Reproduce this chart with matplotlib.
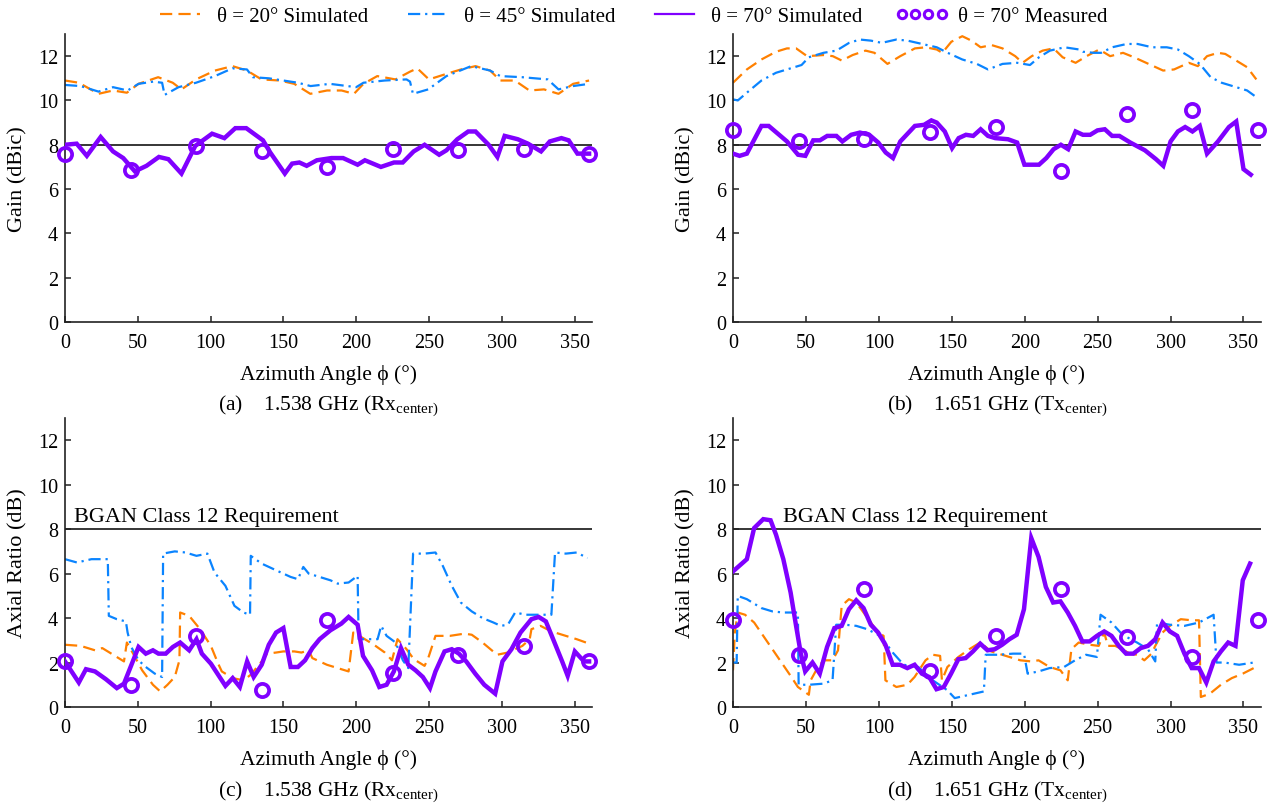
import matplotlib
matplotlib.use("Agg")
import matplotlib.pyplot as plt
from matplotlib.lines import Line2D

plt.rcParams['font.family'] = ['Liberation Serif', 'DejaVu Serif']
plt.rcParams['mathtext.fontset'] = 'stix'

# ---------------- data ----------------
meas_phi = [0, 45, 90, 135, 180, 225, 270, 315, 360]

# (a) gain 1.538 GHz
a_phi_20 = [0, 9.5, 23, 33, 42.5, 50.5, 64, 74, 80, 90, 103, 115, 125, 135, 147.5, 157.5, 168.5, 180, 190, 198.5,
            205, 214.5, 227, 237, 242, 250, 262, 272, 282, 292, 299, 309, 319, 329, 339, 349, 360]
a_g20 = [10.9, 10.8, 10.3, 10.45, 10.35, 10.75, 11.05, 10.8, 10.5, 10.95, 11.35, 11.55, 11.35, 10.95, 10.9, 10.75, 10.3, 10.45, 10.45, 10.3,
         10.75, 11.1, 10.95, 11.3, 11.45, 10.95, 11.2, 11.4, 11.55, 11.35, 10.9, 10.9, 10.45, 10.5, 10.3, 10.75, 10.9]
a_phi_45 = [0, 10.7, 23, 33, 43, 50.5, 60.5, 66.7, 68.4, 78, 90, 103, 115, 125, 129, 140, 150, 160, 168.7, 182,
            200, 205, 219.6, 234.6, 237, 239, 249.5, 262, 279, 292, 299, 314, 331.6, 339, 349, 360]
a_g45 = [10.7, 10.65, 10.4, 10.6, 10.45, 10.75, 10.85, 10.8, 10.25, 10.6, 10.8, 11.1, 11.45, 11.4, 11.05, 11.0, 10.9, 10.8, 10.65, 10.75,
         10.6, 10.8, 10.9, 10.95, 10.85, 10.3, 10.5, 11.1, 11.55, 11.35, 11.1, 11.05, 10.95, 10.5, 10.65, 10.75]
a_phi_70 = [0, 8, 15, 24.5, 33, 40, 48, 56, 64.5, 71, 80, 89.5, 101, 109.5, 117, 124.5, 136, 141, 151, 156,
            161, 166, 173, 183, 191, 201, 206, 217, 226, 232, 239.5, 247, 257, 262, 269.5, 277, 282, 291, 297, 302,
            311, 318, 327, 333, 341, 346, 352, 358, 360]
a_g70 = [8.0, 8.05, 7.5, 8.35, 7.7, 7.4, 6.8, 7.05, 7.45, 7.35, 6.7, 7.95, 8.5, 8.3, 8.75, 8.75, 8.2, 7.65, 6.7, 7.15,
         7.2, 7.05, 7.3, 7.4, 7.4, 7.1, 7.3, 7.0, 7.2, 7.2, 7.7, 8.0, 7.55, 7.75, 8.25, 8.6, 8.6, 8.0, 7.45, 8.4,
         8.25, 8.05, 7.7, 8.15, 8.3, 8.2, 7.6, 7.6, 7.6]
a_meas = [7.6, 6.85, 7.95, 7.7, 7.0, 7.8, 7.75, 7.8, 7.6]

# (b) gain 1.651 GHz
b_phi_20 = [0, 9.5, 19.5, 29.5, 37, 43.3, 50.8, 62, 68.4, 74.6, 82, 90.9, 97, 105.9, 114.7, 124.7, 132.2, 139.7, 143.5, 149.7,
            157.2, 163.5, 169.8, 177.3, 184.8, 193.5, 198.5, 204.8, 212.3, 219.8, 226, 234.9, 242.4, 251.1, 258.6, 267.4, 274.9, 284.9, 294.9, 302.4,
            312.5, 318.7, 325, 332.5, 337.5, 345, 352.5, 358.8]
b_g20 = [10.8, 11.4, 11.85, 12.2, 12.35, 12.35, 12.0, 12.05, 12.0, 11.8, 12.05, 12.25, 12.15, 11.65, 12.0, 12.35, 12.4, 12.3, 12.15, 12.65,
         12.9, 12.7, 12.4, 12.5, 12.35, 12.0, 11.7, 12.0, 12.25, 12.35, 11.95, 11.7, 12.0, 12.3, 12.0, 12.15, 11.95, 11.65, 11.35, 11.4,
         11.7, 11.55, 12.0, 12.15, 12.1, 11.8, 11.5, 10.95]
b_phi_45 = [0, 3.3, 9.5, 19.5, 29.5, 42, 47, 52, 62, 70.9, 79.6, 87, 94.6, 102, 112, 119.7, 129.7, 139.7, 147.2, 157.2,
            167.2, 174.8, 184.8, 194.8, 203.6, 209.8, 217.3, 227.3, 237.4, 239.9, 247.4, 252.4, 259.9, 269.9, 277.4, 287.4, 297.4, 305, 312.5, 320,
            327.5, 335, 345, 352.5, 358.8]
b_g45 = [10.05, 10.0, 10.35, 10.9, 11.25, 11.5, 11.6, 11.95, 12.15, 12.25, 12.6, 12.75, 12.7, 12.6, 12.75, 12.7, 12.55, 12.4, 12.15, 11.85,
         11.65, 11.4, 11.65, 11.7, 11.6, 11.95, 12.25, 12.4, 12.3, 12.2, 12.15, 12.15, 12.4, 12.55, 12.55, 12.4, 12.4, 12.3, 12.0, 11.65,
         11.05, 10.8, 10.6, 10.45, 10.15]
b_phi_70 = [0, 4.5, 9.5, 19.5, 24.5, 37, 44.6, 49.6, 55, 59.6, 64.6, 70.9, 75, 81, 87, 93.4, 99.6, 104.7, 109.7, 114.7,
            124.7, 131, 136, 139.7, 145.2, 150.2, 154.7, 159.7, 164.7, 169.8, 174.8, 179.8, 188.5, 194.8, 199.8, 209.8, 214.8, 219.8, 224.8, 229.8,
            234.9, 239.9, 244.9, 249.9, 254.9, 259.9, 264.9, 272.4, 282.4, 290, 295, 300, 305, 310, 315, 320, 325, 332.5, 340, 345,
            350, 355]
b_g70 = [7.6, 7.5, 7.6, 8.85, 8.85, 8.15, 7.55, 7.5, 8.2, 8.2, 8.4, 8.4, 8.15, 8.45, 8.55, 8.45, 8.1, 7.65, 7.4, 8.15,
         8.85, 8.9, 9.1, 9.0, 8.6, 7.85, 8.3, 8.45, 8.4, 8.7, 8.4, 8.3, 8.25, 8.1, 7.1, 7.1, 7.4, 7.8, 8.0, 7.8,
         8.6, 8.45, 8.45, 8.65, 8.7, 8.4, 8.4, 8.1, 7.75, 7.35, 7.05, 8.15, 8.6, 8.8, 8.6, 8.85, 7.6, 8.15, 8.8, 9.05,
         6.9, 6.65]
b_meas = [8.67, 8.17, 8.25, 8.58, 8.82, 6.82, 9.38, 9.58, 8.67]

# (c) axial ratio 1.538 GHz
c_phi_20 = [0, 10.7, 20.6, 25.6, 33.1, 40.5, 42.5, 46.8, 53, 60.4, 65.4, 70.4, 75.4, 78.6, 79.1, 85.3, 92.8, 100.2, 105.2, 107.7,
            115.2, 122.6, 127.6, 135.1, 138.8, 145, 150, 157.5, 162.4, 167.4, 169.9, 174.9, 179.9, 187.3, 194.8, 198, 204.7, 212.2, 219.7, 224.6,
            228.4, 234.6, 239.6, 247, 249.5, 254.5, 264.4, 274.4, 279.4, 286.8, 296.8, 304.2, 314.2, 319.2, 320.4, 326.6, 334.1, 344, 351.5, 360]
c_ar20 = [2.8, 2.75, 2.55, 2.65, 2.35, 2.05, 2.9, 2.4, 1.65, 1.0, 0.7, 1.0, 1.35, 2.1, 4.25, 4.1, 3.5, 2.75, 1.95, 1.6,
          1.3, 1.2, 1.45, 2.05, 2.4, 2.45, 2.5, 2.5, 2.45, 2.55, 2.2, 2.05, 1.9, 1.75, 1.6, 3.35, 3.1, 2.8, 2.45, 2.1,
          3.05, 2.6, 2.15, 1.85, 2.2, 3.2, 3.2, 3.3, 3.25, 2.9, 2.35, 2.45, 2.75, 3.05, 3.5, 3.65, 3.4, 3.2, 3.05, 2.85]
c_phi_45 = [0, 8.2, 18.2, 25.6, 29.4, 30.1, 35.6, 41.8, 43, 45.5, 50.5, 55.5, 61.7, 66.7, 67.4, 75.4, 82.8, 90.3, 97.8, 102.7,
            110.2, 116.4, 122.6, 127.1, 127.6, 135.1, 145, 155, 160, 163.7, 167.4, 174.9, 182.3, 187.3, 194.8, 201, 201.7, 209.7, 214.7, 217.2,
            220.9, 227.1, 232.1, 235.8, 239.1, 247, 254.5, 259.5, 265.7, 271.9, 279.4, 286.8, 294.3, 299.3, 304.2, 309.2, 316.7, 324.1, 334.1, 336.6,
            344, 351.5, 358.9]
c_ar45 = [6.65, 6.5, 6.65, 6.65, 6.65, 4.1, 3.95, 3.85, 3.35, 2.7, 2.1, 1.8, 1.5, 1.35, 6.9, 7.0, 6.95, 6.8, 6.9, 6.05,
          5.45, 4.55, 4.25, 4.15, 6.8, 6.45, 6.15, 5.85, 5.75, 6.3, 6.0, 5.85, 5.7, 5.55, 5.6, 5.9, 3.05, 3.05, 3.05, 3.65,
          3.2, 2.9, 2.1, 1.75, 6.9, 6.9, 6.95, 6.35, 5.45, 4.7, 4.3, 4.0, 3.8, 3.65, 3.7, 4.25, 4.15, 4.15, 4.15, 6.95,
          6.9, 6.95, 6.7]
c_phi_70 = [0, 9.5, 14.4, 20.6, 28.1, 35.6, 40.5, 50.5, 55.5, 60.4, 64.2, 69.2, 74.1, 79.1, 85.3, 90.3, 94, 100.2, 110.2, 115.2,
            120.1, 125.1, 129.6, 135.1, 140, 145, 150, 155, 160, 164.9, 169.9, 174.9, 182.3, 189.8, 194.8, 201, 204.7, 210.9, 215.9, 220.9,
            225.9, 230.8, 235.8, 240.8, 245.8, 250.7, 254.5, 260.7, 265.7, 270.6, 275.6, 281.8, 288, 295.5, 300.5, 306.7, 312.9, 320.4, 325.4, 330.3,
            335.3, 341.5, 345.3, 350.2, 356.5, 360]
c_ar70 = [2.05, 1.1, 1.7, 1.6, 1.25, 0.85, 1.05, 2.7, 2.4, 2.55, 2.4, 2.4, 2.7, 2.9, 2.55, 3.05, 2.4, 1.95, 0.95, 1.3,
          0.9, 2.05, 1.35, 1.9, 2.8, 3.35, 3.55, 1.8, 1.8, 2.1, 2.65, 3.05, 3.45, 3.75, 4.05, 3.7, 2.3, 1.65, 0.9, 1.0,
          1.6, 2.65, 1.9, 1.65, 1.35, 0.85, 1.6, 2.5, 2.6, 2.4, 2.05, 1.5, 1.0, 0.6, 2.05, 2.6, 3.35, 3.95, 4.05, 3.85,
          3.05, 2.05, 1.4, 2.5, 2.05, 2.05]
c_meas = [2.05, 1.0, 3.2, 0.75, 3.9, 1.55, 2.35, 2.75, 2.05]

# (d) axial ratio 1.651 GHz
d_phi_20 = [0, 1.25, 3.25, 8.25, 14.5, 20.75, 27, 33.25, 39.5, 44.5, 52, 53.25, 57, 62, 68.25, 72, 74.5, 79.5, 84.5, 89.5,
            94.5, 99.5, 103.25, 104.5, 112, 119.5, 124.5, 132, 137, 142, 143.25, 147, 154.5, 162, 169.5, 177, 184.5, 192, 197, 204.5,
            209.5, 217, 224.5, 229.5, 232, 237, 244.5, 250.75, 254.5, 257, 262, 267, 272, 277, 282, 287, 289.5, 294.5, 299.5, 307,
            314.5, 319.5, 320.75, 327, 334.5, 342, 349.5, 357]
d_ar20 = [1.65, 3.35, 4.25, 4.15, 3.8, 3.2, 2.6, 2.0, 1.4, 0.9, 0.55, 1.2, 1.65, 2.1, 2.1, 2.55, 4.55, 4.85, 4.7, 4.25,
          3.8, 3.35, 3.2, 1.2, 0.9, 1.0, 1.35, 2.1, 2.35, 2.3, 1.2, 1.8, 2.25, 2.6, 2.9, 2.5, 2.35, 2.2, 2.1, 2.05,
          2.1, 1.8, 1.65, 1.2, 2.6, 2.9, 2.8, 2.75, 3.35, 2.75, 2.75, 2.6, 2.4, 2.35, 2.1, 2.4, 2.75, 3.35, 3.65, 3.95,
          3.9, 3.9, 0.45, 0.6, 1.0, 1.3, 1.5, 1.75]
d_phi_45 = [0, 2.5, 3.25, 9.5, 19.5, 27, 34.5, 44.5, 45, 52, 62, 68.25, 70.75, 77, 84.5, 92, 99.5, 104.5, 109.5, 117,
            127, 137, 147, 152, 162, 172, 173.25, 182, 192, 199.5, 202, 209.5, 217, 227, 234.5, 242, 249.5, 252, 259.5, 267,
            277, 284.5, 289.5, 290.75, 299.5, 309.5, 319.5, 329.5, 331.5, 337, 347, 357]
d_ar45 = [2.0, 2.0, 5.0, 4.85, 4.45, 4.3, 4.25, 4.25, 1.0, 1.0, 1.05, 1.2, 3.7, 3.7, 3.65, 3.5, 3.25, 2.9, 2.45, 1.9,
          1.8, 1.2, 0.75, 0.4, 0.55, 0.7, 2.35, 2.35, 2.4, 2.4, 1.5, 1.6, 1.75, 1.8, 2.1, 2.35, 2.25, 4.15, 3.8, 3.25,
          2.9, 2.6, 2.05, 3.8, 3.7, 3.65, 3.8, 4.15, 2.0, 2.0, 1.9, 2.0]
d_phi_70 = [0, 9.5, 14.5, 20.75, 25.75, 29.5, 34.5, 39.5, 43.25, 46.5, 49.5, 54.5, 59.5, 64.5, 69.5, 74.5, 79.5, 84.5, 89.5, 94.5,
            99.5, 104.5, 109.5, 114.5, 119.5, 124.5, 129.5, 134.5, 139.5, 144.5, 149.5, 154.5, 159.5, 164.5, 169.5, 174.5, 179.5, 184.5, 189.5, 194.5,
            199.5, 204.5, 209.5, 214.5, 219.5, 224.5, 229.5, 234.5, 239.5, 244.5, 249.5, 254.5, 259.5, 264.5, 269.5, 274.5, 279.5, 284.5, 289.5, 294.5,
            299.5, 304.5, 309.5, 314.5, 319.5, 324.5, 329.5, 334.5, 339.5, 344.5, 349.5, 354.5]
d_ar70 = [6.1, 6.65, 8.05, 8.45, 8.4, 7.75, 6.65, 5.15, 3.65, 2.4, 1.6, 2.0, 1.5, 2.7, 3.55, 3.65, 4.4, 4.8, 4.45, 3.7,
          3.35, 2.8, 1.9, 1.9, 1.75, 1.9, 1.5, 1.35, 0.8, 0.9, 1.5, 2.15, 2.2, 2.5, 2.85, 2.55, 2.6, 2.8, 3.05, 3.25,
          4.4, 7.6, 6.75, 5.4, 4.7, 4.75, 4.25, 3.65, 2.95, 2.95, 3.2, 3.4, 3.2, 2.75, 2.4, 2.4, 2.65, 2.75, 3.05, 3.8,
          3.4, 3.2, 2.4, 1.75, 1.75, 1.1, 2.05, 2.5, 2.9, 2.75, 5.7, 6.45]
d_meas = [3.9, 2.35, 5.3, 1.6, 3.2, 5.3, 3.15, 2.25, 3.9]

x_ticks = [0, 50, 100, 150, 200, 250, 300, 350]
y_ticks = [0, 2, 4, 6, 8, 10, 12]
legend_labels = ['θ = 20° Simulated', 'θ = 45° Simulated', 'θ = 70° Simulated', 'θ = 70° Measured']
captions = ['(a)    1.538 GHz (Rx$_{\\mathregular{center)}}$',
            '(b)    1.651 GHz (Tx$_{\\mathregular{center)}}$',
            '(c)    1.538 GHz (Rx$_{\\mathregular{center)}}$',
            '(d)    1.651 GHz (Tx$_{\\mathregular{center)}}$']
ylabels = ['Gain (dBic)', 'Gain (dBic)', 'Axial Ratio (dB)', 'Axial Ratio (dB)']
xlabel = 'Azimuth Angle ϕ (°)'
req_label = 'BGAN Class 12 Requirement'
req_x = [None, None, 6.5, 34]

# ---------------- style ----------------
C20 = '#ff8000'
C45 = '#0a84ff'
C70 = '#8000ff'
FS_TICK = 14.5
FS_LAB = 15.5
FS_YLAB = 16
FS_LEG = 15
FS_REQ = 16

W, H = 1275, 804
fig = plt.figure(figsize=(W / 100, H / 100), dpi=100)

def px_axes(l, r, t, b):
    return fig.add_axes([l / W, 1 - b / H, (r - l) / W, (b - t) / H])

axes = [px_axes(65, 592, 35, 323), px_axes(733, 1261, 35, 323),
        px_axes(65, 592, 419, 708), px_axes(733, 1261, 419, 708)]

panels = [
    (a_phi_20, a_g20, a_phi_45, a_g45, a_phi_70, a_g70, a_meas),
    (b_phi_20, b_g20, b_phi_45, b_g45, b_phi_70, b_g70, b_meas),
    (c_phi_20, c_ar20, c_phi_45, c_ar45, c_phi_70, c_ar70, c_meas),
    (d_phi_20, d_ar20, d_phi_45, d_ar45, d_phi_70, d_ar70, d_meas),
]

for i, (ax, p) in enumerate(zip(axes, panels)):
    p20, v20, p45, v45, p70, v70, vm = p
    ax.axhline(8, color='black', lw=1.1, zorder=1)
    ax.plot(p20, v20, color=C20, lw=1.6, dashes=(5.5, 2.8), zorder=2)
    ax.plot(p45, v45, color=C45, lw=1.6, dashes=(5.5, 2.2, 1.0, 2.2), zorder=2)
    ax.plot(p70, v70, color=C70, lw=3.2, zorder=3, solid_joinstyle='miter')
    ax.plot(meas_phi, vm, linestyle='none', marker='o', ms=9.5, mew=2.7,
            mfc='none', mec=C70, zorder=4, clip_on=False)
    ax.set_xlim(0, 362)
    ax.set_ylim(0, 13)
    ax.set_xticks(x_ticks)
    ax.set_yticks(y_ticks)
    for s in ['top', 'right']:
        ax.spines[s].set_visible(False)
    for s in ['left', 'bottom']:
        ax.spines[s].set_linewidth(1.2)
        ax.spines[s].set_color('#222222')
    ax.tick_params(direction='in', length=4, width=1.1, labelsize=FS_TICK, colors='#222222',
                   labelcolor='black')
    ax.tick_params(axis='x', pad=8)
    ax.tick_params(axis='y', pad=5)
    ax.set_ylabel(ylabels[i], fontsize=FS_YLAB, va='center')
    ax.yaxis.set_label_coords(-47 / 527, 0.5)
    ax.set_xlabel(xlabel, fontsize=FS_LAB, va='center')
    ax.xaxis.set_label_coords(0.5, -52 / 288)
    ax.text(0.5, -83 / 288, captions[i], transform=ax.transAxes, ha='center', va='center',
            fontsize=FS_LAB)
    if req_x[i] is not None:
        ax.text(req_x[i], 8.38, req_label, fontsize=FS_REQ, ha='left', va='baseline')

handles = [Line2D([], [], color=C20, lw=1.6, dashes=(5.5, 2.8)),
           Line2D([], [], color=C45, lw=1.6, dashes=(5.5, 2.2, 1.0, 2.2)),
           Line2D([], [], color=C70, lw=1.6),
           Line2D([], [], linestyle='none', marker='o', ms=6, mew=2.2, mfc='none', mec=C70)]
fig.legend(handles, legend_labels, loc='center', bbox_to_anchor=(631 / W, 1 - 17 / H), ncol=4,
           frameon=False, fontsize=FS_LEG, numpoints=4, handlelength=2.5, columnspacing=1.6,
           handletextpad=0.5, borderpad=0.1)

fig.savefig('out.png', dpi=100)
